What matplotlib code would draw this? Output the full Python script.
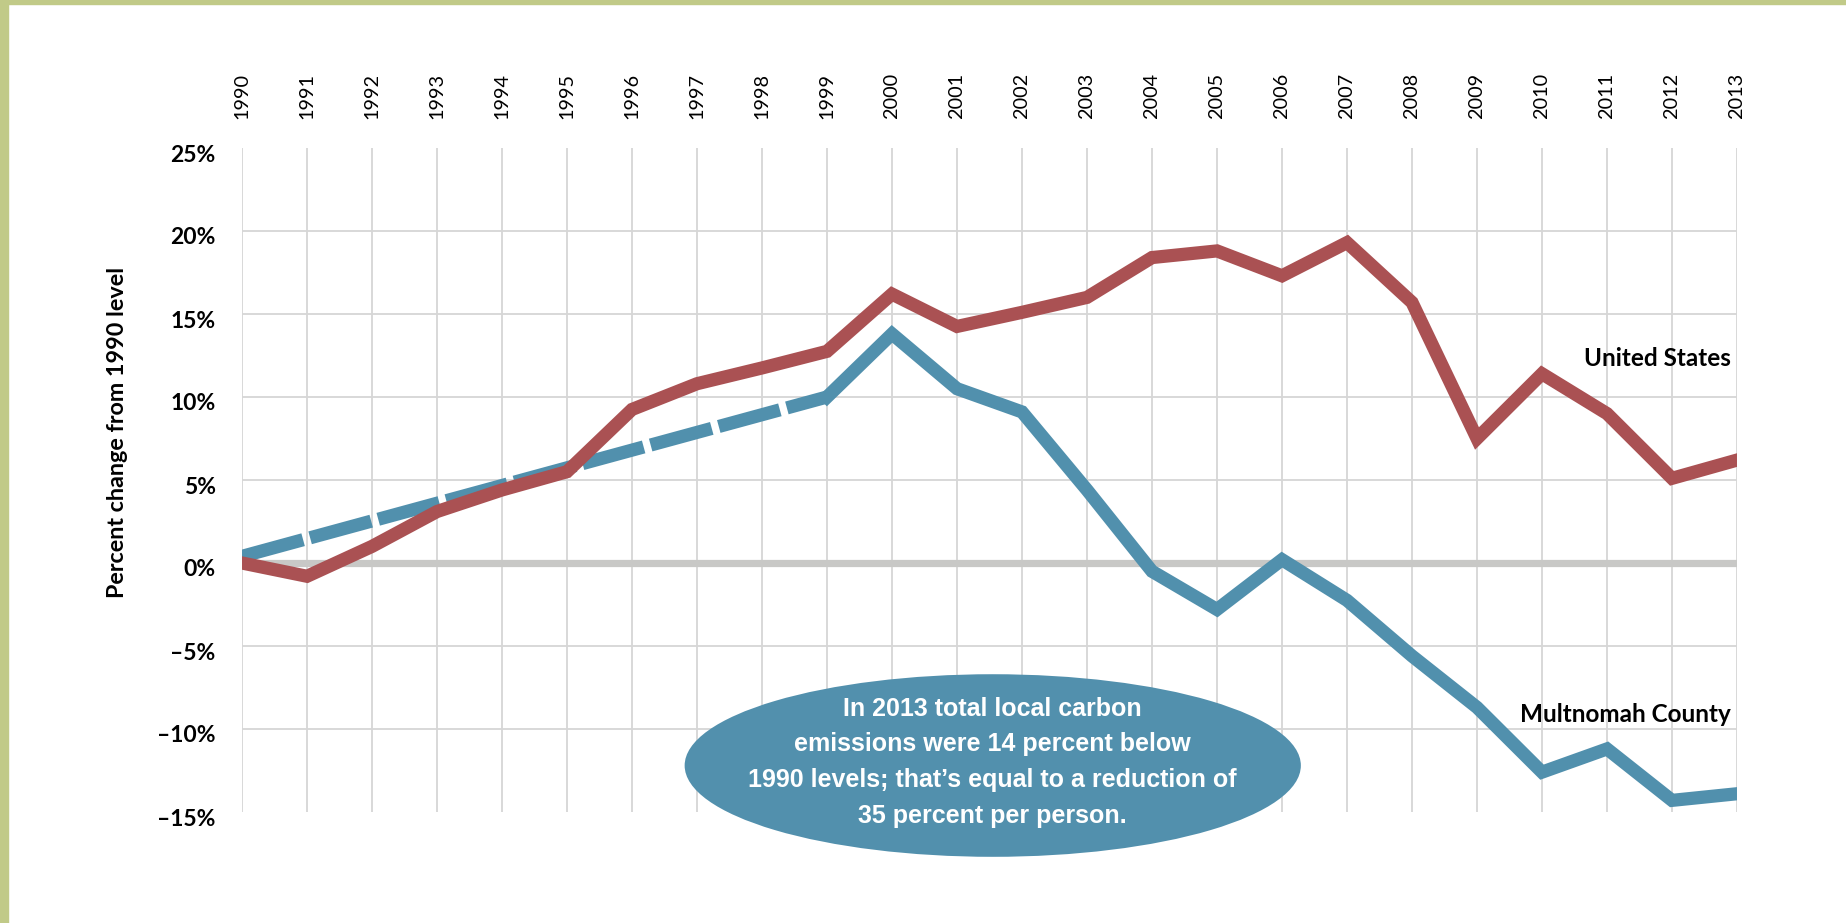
import matplotlib
matplotlib.use("Agg")
import matplotlib.pyplot as plt
from matplotlib.patches import Ellipse, Rectangle
from matplotlib.transforms import ScaledTranslation

# Datos (porcentaje de cambio respecto a 1990)
years = list(range(1990, 2014))
us_change = [0.0, -0.8, 1.0, 3.1, 4.4, 5.5, 9.25, 10.8, 11.75, 12.75,
             16.2, 14.25, 15.1, 16.0, 18.4, 18.8, 17.3, 19.3, 15.7, 7.5,
             11.4, 9.0, 5.1, 6.2]

# Multnomah: 1990-1999 solo estan los extremos (tramo punteado)
mc_dash_years = [1990, 1999]
mc_dash_change = [0.4, 10.0]
mc_years = list(range(1999, 2014))
mc_change = [10.0, 13.8, 10.5, 9.1, 4.4, -0.5, -2.8, 0.2, -2.25, -5.6,
             -8.7, -12.6, -11.2, -14.3, -13.9]

ytick_vals = [25, 20, 15, 10, 5, 0, -5, -10, -15]
ytick_labels = ["25%", "20%", "15%", "10%", "5%", "0%", "\u20135%", "\u201310%", "\u201315%"]
grid_vals = [20, 15, 10, 5, -5, -10]

note = ("In 2013 total local carbon\n"
        "emissions were 14 percent below\n"
        "1990 levels; that\u2019s equal to a reduction of\n"
        "35 percent per person.")

red = "#aa5153"
blue = "#5190ad"
green = "#c1ca88"
bold_font = ["Lato", "DejaVu Sans"]
narrow_font = ["Liberation Sans Narrow", "Liberation Sans", "DejaVu Sans"]

fig = plt.figure(figsize=(18.46, 9.23), dpi=100)
fig.patch.set_facecolor("white")

# marco verde (arriba e izquierda)
fig.patches.append(Rectangle((0, 1 - 4 / 923), 1, 4 / 923, transform=fig.transFigure,
                             color=green, zorder=0))
fig.patches.append(Rectangle((0, 0), 8 / 1846, 1, transform=fig.transFigure,
                             color=green, zorder=0))

ax = fig.add_axes([242 / 1846, 1 - 812 / 923, (1737 - 242) / 1846, (812 - 148) / 923])
ax.set_xlim(1990, 2013)
ax.set_ylim(-15, 25)
for s in ax.spines.values():
    s.set_visible(False)

# rejilla
for yr in years:
    ax.axvline(yr, color="#d6d6d6", lw=1.3, zorder=1)
for g in grid_vals:
    ax.axhline(g, color="#d6d6d6", lw=1.3, zorder=1)
ax.axhline(0, color="#c8c8c6", lw=5.2, zorder=2)

# lineas
ax.plot(mc_dash_years, mc_dash_change, color=blue, lw=9.5, linestyle=(0, (4.8, 0.55)),
        zorder=3)
ax.plot(mc_years, mc_change, color=blue, lw=9.5, solid_joinstyle="miter", zorder=3)
ax.plot(years, us_change, color=red, lw=9.5, solid_joinstyle="miter", zorder=4)

# ejes
ax.set_xticks(years)
ax.set_xticklabels([str(y) for y in years], rotation=90, fontsize=14.3, family=bold_font)
ax.tick_params(axis="x", top=True, labeltop=True, bottom=False, labelbottom=False,
               length=0, pad=21)
ax.set_yticks(ytick_vals)
ax.set_yticklabels(ytick_labels, fontsize=16.5, fontweight="bold", family=bold_font)
ax.tick_params(axis="y", length=0, pad=19)
for lbl in ax.get_yticklabels():
    lbl.set_transform(lbl.get_transform() + ScaledTranslation(0, -5 / 100, fig.dpi_scale_trans))

fig.text(118 / 1846, 1 - 432 / 923, "Percent change from 1990 level", rotation=90,
         ha="center", va="center", fontsize=16.8, fontweight="bold", family=bold_font)

ax.text(2012.9, 12.3, "United States", ha="right", va="center", fontsize=17.5,
        fontweight="bold", family=bold_font, zorder=5)
ax.text(2012.9, -9.1, "Multnomah County", ha="right", va="center", fontsize=17.5,
        fontweight="bold", family=bold_font, zorder=5)

# ovalo con la nota
ax.add_patch(Ellipse((2001.55, -12.2), width=9.48, height=11.0, facecolor="#5290ad",
                     edgecolor="none", clip_on=False, zorder=6))
ax.text(2001.55, -12.0, note, ha="center", va="center", color="white", fontsize=18,
        fontweight="bold", family=narrow_font, linespacing=1.62, zorder=7)

fig.savefig("out.png", dpi=100)
